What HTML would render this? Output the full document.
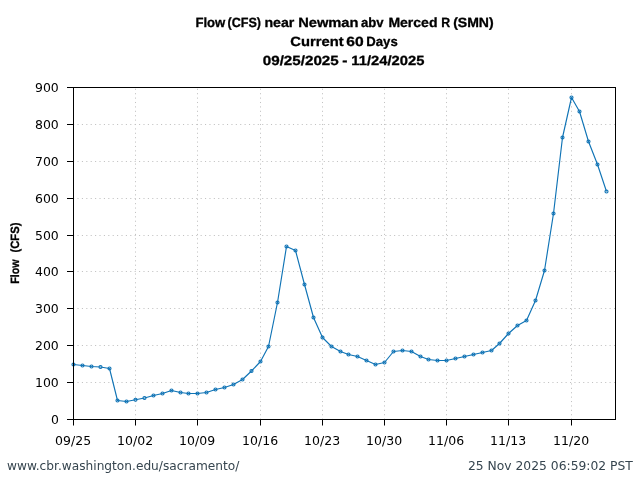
<!DOCTYPE html>
<html><head><meta charset="utf-8"><title>Flow (CFS) near Newman abv Merced R (SMN)</title>
<style>
html,body{margin:0;padding:0;background:#fff;}
svg{display:block}
.t{font-family:"Liberation Sans",sans-serif;font-weight:bold;font-size:13.3px;fill:#000;text-anchor:middle;stroke:#000;stroke-width:0.3px;text-rendering:geometricPrecision}
.a{font-family:"DejaVu Sans","Liberation Sans",sans-serif;font-size:12px;fill:#000}
.f{font-family:"DejaVu Sans","Liberation Sans",sans-serif;font-size:12px;fill:#36454f}
.g{stroke:#c2c2c2;stroke-width:1;stroke-dasharray:1.1 3.2975;fill:none}
.gh{stroke-dashoffset:0.42}
.gv{stroke-dashoffset:3.13}
.ax{stroke:#000;stroke-width:1;fill:none}
</style></head><body>
<svg width="640" height="480" viewBox="0 0 640 480">
<rect width="640" height="480" fill="#fff"/>

<line class="g gh" x1="73.5" x2="615.5" y1="382.50" y2="382.50"/>
<line class="g gh" x1="73.5" x2="615.5" y1="345.50" y2="345.50"/>
<line class="g gh" x1="73.5" x2="615.5" y1="308.50" y2="308.50"/>
<line class="g gh" x1="73.5" x2="615.5" y1="271.50" y2="271.50"/>
<line class="g gh" x1="73.5" x2="615.5" y1="235.50" y2="235.50"/>
<line class="g gh" x1="73.5" x2="615.5" y1="198.50" y2="198.50"/>
<line class="g gh" x1="73.5" x2="615.5" y1="161.50" y2="161.50"/>
<line class="g gh" x1="73.5" x2="615.5" y1="124.50" y2="124.50"/>
<line class="g gv" x1="135.50" x2="135.50" y1="87.5" y2="419.5"/>
<line class="g gv" x1="197.50" x2="197.50" y1="87.5" y2="419.5"/>
<line class="g gv" x1="260.50" x2="260.50" y1="87.5" y2="419.5"/>
<line class="g gv" x1="322.50" x2="322.50" y1="87.5" y2="419.5"/>
<line class="g gv" x1="384.50" x2="384.50" y1="87.5" y2="419.5"/>
<line class="g gv" x1="446.50" x2="446.50" y1="87.5" y2="419.5"/>
<line class="g gv" x1="508.50" x2="508.50" y1="87.5" y2="419.5"/>
<line class="g gv" x1="571.50" x2="571.50" y1="87.5" y2="419.5"/>
<polyline fill="none" stroke="#0f73b5" stroke-width="1.15" stroke-linejoin="round" points="73.50,364.50 82.50,365.50 91.50,366.50 100.50,367.00 109.50,368.50 117.50,400.50 126.50,401.50 135.50,399.75 144.50,398.00 153.50,395.50 162.50,393.50 171.50,390.50 180.50,392.50 188.50,393.50 197.50,393.50 206.50,392.50 215.50,389.50 224.50,387.50 233.50,384.50 242.50,379.50 251.50,371.00 260.50,361.50 268.50,346.50 277.50,302.50 286.50,246.50 295.50,250.50 304.50,284.50 313.50,317.50 322.50,337.50 331.50,346.50 340.50,351.50 348.50,354.50 357.50,356.50 366.50,360.50 375.50,364.50 384.50,362.50 393.50,351.50 402.50,350.50 411.50,351.50 420.50,356.50 428.50,359.50 437.50,360.50 446.50,360.50 455.50,358.50 464.50,356.50 473.50,354.50 482.50,352.50 491.50,350.50 499.50,343.50 508.50,333.50 517.50,325.50 526.50,320.50 535.50,300.50 544.50,270.50 553.50,213.50 562.50,137.50 571.50,97.50 579.50,111.50 588.50,141.50 597.50,164.50 606.50,191.50"/>
<g fill="none" stroke="#0f73b5" stroke-width="1.15">
<circle cx="73.50" cy="364.50" r="1.5"/>
<circle cx="82.50" cy="365.50" r="1.5"/>
<circle cx="91.50" cy="366.50" r="1.5"/>
<circle cx="100.50" cy="367.00" r="1.5"/>
<circle cx="109.50" cy="368.50" r="1.5"/>
<circle cx="117.50" cy="400.50" r="1.5"/>
<circle cx="126.50" cy="401.50" r="1.5"/>
<circle cx="135.50" cy="399.75" r="1.5"/>
<circle cx="144.50" cy="398.00" r="1.5"/>
<circle cx="153.50" cy="395.50" r="1.5"/>
<circle cx="162.50" cy="393.50" r="1.5"/>
<circle cx="171.50" cy="390.50" r="1.5"/>
<circle cx="180.50" cy="392.50" r="1.5"/>
<circle cx="188.50" cy="393.50" r="1.5"/>
<circle cx="197.50" cy="393.50" r="1.5"/>
<circle cx="206.50" cy="392.50" r="1.5"/>
<circle cx="215.50" cy="389.50" r="1.5"/>
<circle cx="224.50" cy="387.50" r="1.5"/>
<circle cx="233.50" cy="384.50" r="1.5"/>
<circle cx="242.50" cy="379.50" r="1.5"/>
<circle cx="251.50" cy="371.00" r="1.5"/>
<circle cx="260.50" cy="361.50" r="1.5"/>
<circle cx="268.50" cy="346.50" r="1.5"/>
<circle cx="277.50" cy="302.50" r="1.5"/>
<circle cx="286.50" cy="246.50" r="1.5"/>
<circle cx="295.50" cy="250.50" r="1.5"/>
<circle cx="304.50" cy="284.50" r="1.5"/>
<circle cx="313.50" cy="317.50" r="1.5"/>
<circle cx="322.50" cy="337.50" r="1.5"/>
<circle cx="331.50" cy="346.50" r="1.5"/>
<circle cx="340.50" cy="351.50" r="1.5"/>
<circle cx="348.50" cy="354.50" r="1.5"/>
<circle cx="357.50" cy="356.50" r="1.5"/>
<circle cx="366.50" cy="360.50" r="1.5"/>
<circle cx="375.50" cy="364.50" r="1.5"/>
<circle cx="384.50" cy="362.50" r="1.5"/>
<circle cx="393.50" cy="351.50" r="1.5"/>
<circle cx="402.50" cy="350.50" r="1.5"/>
<circle cx="411.50" cy="351.50" r="1.5"/>
<circle cx="420.50" cy="356.50" r="1.5"/>
<circle cx="428.50" cy="359.50" r="1.5"/>
<circle cx="437.50" cy="360.50" r="1.5"/>
<circle cx="446.50" cy="360.50" r="1.5"/>
<circle cx="455.50" cy="358.50" r="1.5"/>
<circle cx="464.50" cy="356.50" r="1.5"/>
<circle cx="473.50" cy="354.50" r="1.5"/>
<circle cx="482.50" cy="352.50" r="1.5"/>
<circle cx="491.50" cy="350.50" r="1.5"/>
<circle cx="499.50" cy="343.50" r="1.5"/>
<circle cx="508.50" cy="333.50" r="1.5"/>
<circle cx="517.50" cy="325.50" r="1.5"/>
<circle cx="526.50" cy="320.50" r="1.5"/>
<circle cx="535.50" cy="300.50" r="1.5"/>
<circle cx="544.50" cy="270.50" r="1.5"/>
<circle cx="553.50" cy="213.50" r="1.5"/>
<circle cx="562.50" cy="137.50" r="1.5"/>
<circle cx="571.50" cy="97.50" r="1.5"/>
<circle cx="579.50" cy="111.50" r="1.5"/>
<circle cx="588.50" cy="141.50" r="1.5"/>
<circle cx="597.50" cy="164.50" r="1.5"/>
<circle cx="606.50" cy="191.50" r="1.5"/>
</g>
<rect class="ax" x="73.5" y="87.5" width="542.0" height="332.0"/>
<line class="ax" x1="73.50" x2="73.50" y1="419.5" y2="425.5"/>
<line class="ax" x1="135.50" x2="135.50" y1="419.5" y2="425.5"/>
<line class="ax" x1="197.50" x2="197.50" y1="419.5" y2="425.5"/>
<line class="ax" x1="260.50" x2="260.50" y1="419.5" y2="425.5"/>
<line class="ax" x1="322.50" x2="322.50" y1="419.5" y2="425.5"/>
<line class="ax" x1="384.50" x2="384.50" y1="419.5" y2="425.5"/>
<line class="ax" x1="446.50" x2="446.50" y1="419.5" y2="425.5"/>
<line class="ax" x1="508.50" x2="508.50" y1="419.5" y2="425.5"/>
<line class="ax" x1="571.50" x2="571.50" y1="419.5" y2="425.5"/>
<line class="ax" x1="67.0" x2="73.5" y1="419.50" y2="419.50"/>
<line class="ax" x1="67.0" x2="73.5" y1="382.50" y2="382.50"/>
<line class="ax" x1="67.0" x2="73.5" y1="345.50" y2="345.50"/>
<line class="ax" x1="67.0" x2="73.5" y1="308.50" y2="308.50"/>
<line class="ax" x1="67.0" x2="73.5" y1="271.50" y2="271.50"/>
<line class="ax" x1="67.0" x2="73.5" y1="235.50" y2="235.50"/>
<line class="ax" x1="67.0" x2="73.5" y1="198.50" y2="198.50"/>
<line class="ax" x1="67.0" x2="73.5" y1="161.50" y2="161.50"/>
<line class="ax" x1="67.0" x2="73.5" y1="124.50" y2="124.50"/>
<line class="ax" x1="67.0" x2="73.5" y1="87.50" y2="87.50"/>
<text class="a" x="73.10" y="445" text-anchor="middle" textLength="36" lengthAdjust="spacingAndGlyphs">09/25</text>
<text class="a" x="135.10" y="445" text-anchor="middle" textLength="36" lengthAdjust="spacingAndGlyphs">10/02</text>
<text class="a" x="197.10" y="445" text-anchor="middle" textLength="36" lengthAdjust="spacingAndGlyphs">10/09</text>
<text class="a" x="260.10" y="445" text-anchor="middle" textLength="36" lengthAdjust="spacingAndGlyphs">10/16</text>
<text class="a" x="322.10" y="445" text-anchor="middle" textLength="36" lengthAdjust="spacingAndGlyphs">10/23</text>
<text class="a" x="384.10" y="445" text-anchor="middle" textLength="36" lengthAdjust="spacingAndGlyphs">10/30</text>
<text class="a" x="446.10" y="445" text-anchor="middle" textLength="36" lengthAdjust="spacingAndGlyphs">11/06</text>
<text class="a" x="508.10" y="445" text-anchor="middle" textLength="36" lengthAdjust="spacingAndGlyphs">11/13</text>
<text class="a" x="571.10" y="445" text-anchor="middle" textLength="36" lengthAdjust="spacingAndGlyphs">11/20</text>
<text class="a" x="58.8" y="423.90" text-anchor="end" textLength="7.9" lengthAdjust="spacingAndGlyphs">0</text>
<text class="a" x="58.8" y="386.90" text-anchor="end" textLength="23.8" lengthAdjust="spacingAndGlyphs">100</text>
<text class="a" x="58.8" y="349.90" text-anchor="end" textLength="23.8" lengthAdjust="spacingAndGlyphs">200</text>
<text class="a" x="58.8" y="312.90" text-anchor="end" textLength="23.8" lengthAdjust="spacingAndGlyphs">300</text>
<text class="a" x="58.8" y="275.90" text-anchor="end" textLength="23.8" lengthAdjust="spacingAndGlyphs">400</text>
<text class="a" x="58.8" y="239.90" text-anchor="end" textLength="23.8" lengthAdjust="spacingAndGlyphs">500</text>
<text class="a" x="58.8" y="202.90" text-anchor="end" textLength="23.8" lengthAdjust="spacingAndGlyphs">600</text>
<text class="a" x="58.8" y="165.90" text-anchor="end" textLength="23.8" lengthAdjust="spacingAndGlyphs">700</text>
<text class="a" x="58.8" y="128.90" text-anchor="end" textLength="23.8" lengthAdjust="spacingAndGlyphs">800</text>
<text class="a" x="58.8" y="91.90" text-anchor="end" textLength="23.8" lengthAdjust="spacingAndGlyphs">900</text>
<text class="t" style="text-anchor:start" y="27.45"><tspan x="195.40" textLength="29.95" lengthAdjust="spacingAndGlyphs">Flow</tspan> <tspan x="227.50" textLength="33.50" lengthAdjust="spacingAndGlyphs">(CFS)</tspan> <tspan x="264.40" textLength="29.95" lengthAdjust="spacingAndGlyphs">near</tspan> <tspan x="298.15" textLength="60.35" lengthAdjust="spacingAndGlyphs">Newman</tspan> <tspan x="361.00" textLength="22.70" lengthAdjust="spacingAndGlyphs">abv</tspan> <tspan x="388.40" textLength="49.10" lengthAdjust="spacingAndGlyphs">Merced</tspan> <tspan x="441.30" textLength="8.90" lengthAdjust="spacingAndGlyphs">R</tspan> <tspan x="453.15" textLength="40.55" lengthAdjust="spacingAndGlyphs">(SMN)</tspan></text>
<text class="t" style="text-anchor:start" y="46.3"><tspan x="290.30" textLength="53.40" lengthAdjust="spacingAndGlyphs">Current</tspan> <tspan x="346.30" textLength="17.40" lengthAdjust="spacingAndGlyphs">60</tspan> <tspan x="366.30" textLength="31.40" lengthAdjust="spacingAndGlyphs">Days</tspan></text>
<text class="t" style="text-anchor:start" y="65.1"><tspan x="262.80" textLength="75.90" lengthAdjust="spacingAndGlyphs">09/25/2025</tspan> <tspan x="342.30" textLength="5.20" lengthAdjust="spacingAndGlyphs">-</tspan> <tspan x="351.30" textLength="73.05" lengthAdjust="spacingAndGlyphs">11/24/2025</tspan></text>
<text class="t" style="font-size:12px;text-anchor:start" transform="translate(19.2,253.5) rotate(-90)"><tspan x="-30.3" textLength="24.3" lengthAdjust="spacingAndGlyphs">Flow</tspan> <tspan x="1" textLength="30" lengthAdjust="spacingAndGlyphs">(CFS)</tspan></text>
<text class="f" x="7.0" y="470" textLength="232.3" lengthAdjust="spacingAndGlyphs">www.cbr.washington.edu/sacramento/</text>
<text class="f" x="632.9" y="469.6" text-anchor="end" textLength="165" lengthAdjust="spacingAndGlyphs">25 Nov 2025 06:59:02 PST</text>
</svg></body></html>
